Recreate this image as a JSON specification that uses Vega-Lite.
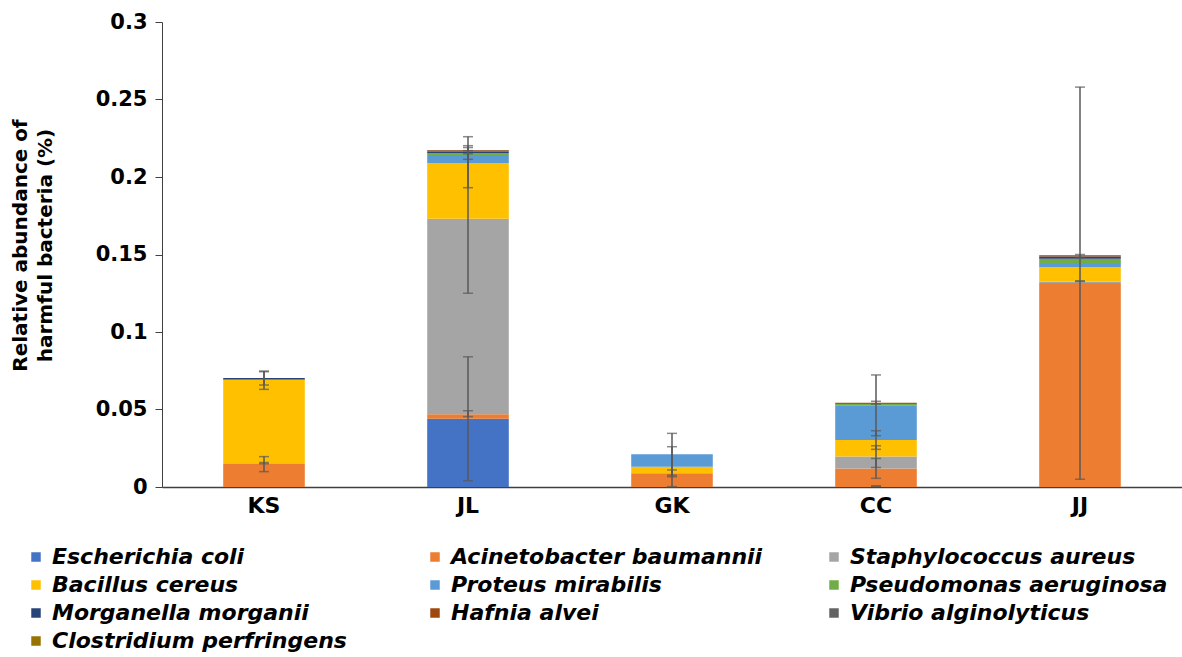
{
  "$schema": "https://vega.github.io/schema/vega-lite/v6.json",
  "width": 1020,
  "height": 465,
  "autosize": {"type": "none"},
  "padding": {"left": 162, "top": 22, "right": 0, "bottom": 170},
  "background": "white",
  "config": {
    "view": {"stroke": null},
    "font": "DejaVu Sans"
  },
  "datasets": {
    "abundance": [
      {"sample": "KS", "species": "Acinetobacter baumannii", "k": 2, "value": 0.0148},
      {"sample": "KS", "species": "Staphylococcus aureus", "k": 3, "value": 0.0005},
      {"sample": "KS", "species": "Bacillus cereus", "k": 4, "value": 0.0537},
      {"sample": "KS", "species": "Proteus mirabilis", "k": 5, "value": 0.0004},
      {"sample": "KS", "species": "Morganella morganii", "k": 7, "value": 0.0009},
      {"sample": "JL", "species": "Escherichia coli", "k": 1, "value": 0.044},
      {"sample": "JL", "species": "Acinetobacter baumannii", "k": 2, "value": 0.003},
      {"sample": "JL", "species": "Staphylococcus aureus", "k": 3, "value": 0.126},
      {"sample": "JL", "species": "Bacillus cereus", "k": 4, "value": 0.036},
      {"sample": "JL", "species": "Proteus mirabilis", "k": 5, "value": 0.0052},
      {"sample": "JL", "species": "Pseudomonas aeruginosa", "k": 6, "value": 0.0013},
      {"sample": "JL", "species": "Morganella morganii", "k": 7, "value": 0.0008},
      {"sample": "JL", "species": "Hafnia alvei", "k": 8, "value": 0.0009},
      {"sample": "JL", "species": "Vibrio alginolyticus", "k": 9, "value": 0.0003},
      {"sample": "GK", "species": "Acinetobacter baumannii", "k": 2, "value": 0.0088},
      {"sample": "GK", "species": "Bacillus cereus", "k": 4, "value": 0.0043},
      {"sample": "GK", "species": "Proteus mirabilis", "k": 5, "value": 0.008},
      {"sample": "CC", "species": "Acinetobacter baumannii", "k": 2, "value": 0.012},
      {"sample": "CC", "species": "Staphylococcus aureus", "k": 3, "value": 0.0076},
      {"sample": "CC", "species": "Bacillus cereus", "k": 4, "value": 0.0107},
      {"sample": "CC", "species": "Proteus mirabilis", "k": 5, "value": 0.0224},
      {"sample": "CC", "species": "Pseudomonas aeruginosa", "k": 6, "value": 0.0008},
      {"sample": "CC", "species": "Morganella morganii", "k": 7, "value": 0.0006},
      {"sample": "CC", "species": "Hafnia alvei", "k": 8, "value": 0.0003},
      {"sample": "JJ", "species": "Acinetobacter baumannii", "k": 2, "value": 0.1316},
      {"sample": "JJ", "species": "Staphylococcus aureus", "k": 3, "value": 0.001},
      {"sample": "JJ", "species": "Bacillus cereus", "k": 4, "value": 0.0092},
      {"sample": "JJ", "species": "Proteus mirabilis", "k": 5, "value": 0.002},
      {"sample": "JJ", "species": "Pseudomonas aeruginosa", "k": 6, "value": 0.0034},
      {"sample": "JJ", "species": "Morganella morganii", "k": 7, "value": 0.0015},
      {"sample": "JJ", "species": "Hafnia alvei", "k": 8, "value": 0.0008}
    ],
    "spread": [
      {"sample": "KS", "lo": 0.0099, "hi": 0.0196},
      {"sample": "KS", "lo": 0.015, "hi": 0.0158},
      {"sample": "KS", "lo": 0.063, "hi": 0.0744},
      {"sample": "KS", "lo": 0.0658, "hi": 0.0748},
      {"sample": "JL", "lo": 0.004, "hi": 0.084},
      {"sample": "JL", "lo": 0.0454, "hi": 0.0492},
      {"sample": "JL", "lo": 0.125, "hi": 0.2202},
      {"sample": "JL", "lo": 0.1931, "hi": 0.226},
      {"sample": "JL", "lo": 0.2114, "hi": 0.2170},
      {"sample": "JL", "lo": 0.2150, "hi": 0.2190},
      {"sample": "GK", "lo": 0.0066, "hi": 0.011},
      {"sample": "GK", "lo": 0.0002, "hi": 0.026},
      {"sample": "GK", "lo": 0.0076, "hi": 0.0346},
      {"sample": "CC", "lo": 0.0006, "hi": 0.0006},
      {"sample": "CC", "lo": 0.0056, "hi": 0.0184},
      {"sample": "CC", "lo": 0.0126, "hi": 0.0266},
      {"sample": "CC", "lo": 0.0243, "hi": 0.0363},
      {"sample": "CC", "lo": 0.0331, "hi": 0.0723},
      {"sample": "CC", "lo": 0.0535, "hi": 0.0553},
      {"sample": "JJ", "lo": 0.005, "hi": 0.258},
      {"sample": "JJ", "lo": 0.1326, "hi": 0.1330},
      {"sample": "JJ", "lo": 0.1480, "hi": 0.1500}
    ]
  },
  "resolve": {"axis": {"x": "independent", "y": "independent"}},
  "layer": [
    {
      "data": {"name": "abundance"},
      "mark": {"type": "bar"},
      "encoding": {
        "x": {
          "field": "sample",
          "type": "nominal",
          "sort": ["KS", "JL", "GK", "CC", "JJ"],
          "scale": {"paddingInner": 0.6, "paddingOuter": 0.3},
          "axis": {
            "title": null,
            "labelAngle": 0,
            "labelFont": "DejaVu Sans",
            "labelFontSize": 22,
            "labelFontWeight": "bold",
            "labelColor": "#000000",
            "labelPadding": 8,
            "ticks": false,
            "domainColor": "#404040",
            "domainWidth": 1.5
          }
        },
        "y": {
          "field": "value",
          "type": "quantitative",
          "stack": "zero",
          "scale": {"domain": [0, 0.3], "nice": false},
          "axis": {
            "values": [0, 0.05, 0.1, 0.15, 0.2, 0.25, 0.3],
            "grid": false,
            "title": ["Relative abundance of", "harmful bacteria (%)"],
            "titleFont": "DejaVu Sans",
            "titleFontSize": 20,
            "titleFontWeight": "bold",
            "titleColor": "#000000",
            "titlePadding": 40,
            "titleLineHeight": 25,
            "titleY": 223,
            "labelFont": "DejaVu Sans",
            "labelFontSize": 21,
            "labelFontWeight": "bold",
            "labelColor": "#000000",
            "labelPadding": 8,
            "tickSize": 7,
            "tickColor": "#404040",
            "domainColor": "#404040",
            "labelExpr": "datum.value === 0 ? '0' : format(datum.value, '.2~f')"
          }
        },
        "color": {
          "field": "species",
          "type": "nominal",
          "scale": {
            "domain": [
              "Escherichia coli",
              "Acinetobacter baumannii",
              "Staphylococcus aureus",
              "Bacillus cereus",
              "Proteus mirabilis",
              "Pseudomonas aeruginosa",
              "Morganella morganii",
              "Hafnia alvei",
              "Vibrio alginolyticus",
              "Clostridium perfringens"
            ],
            "range": [
              "#4472C4", "#ED7D31", "#A5A5A5", "#FFC000", "#5B9BD5",
              "#70AD47", "#264478", "#9E480E", "#636363", "#997300"
            ]
          },
          "legend": {
            "title": null,
            "orient": "none",
            "direction": "horizontal",
            "legendX": -137,
            "legendY": 524,
            "columns": 3,
            "gridAlign": "all",
            "columnPadding": 54,
            "rowPadding": 6,
            "symbolType": "square",
            "symbolSize": 90,
            "symbolStrokeWidth": 0,
            "labelFont": "DejaVu Sans",
            "labelFontSize": 22,
            "labelFontWeight": "bold",
            "labelFontStyle": "italic",
            "labelColor": "#000000",
            "labelOffset": 5,
            "labelLimit": 400
          }
        },
        "order": {"field": "k", "type": "quantitative"}
      }
    },
    {
      "data": {"name": "spread"},
      "mark": {
        "type": "errorbar",
        "ticks": {"size": 10, "thickness": 1.5, "color": "#595959"},
        "rule": {"strokeWidth": 1.5, "color": "#595959"}
      },
      "encoding": {
        "x": {"field": "sample", "type": "nominal", "sort": ["KS", "JL", "GK", "CC", "JJ"], "axis": null},
        "y": {"field": "lo", "type": "quantitative", "axis": null},
        "y2": {"field": "hi"}
      }
    }
  ]
}
